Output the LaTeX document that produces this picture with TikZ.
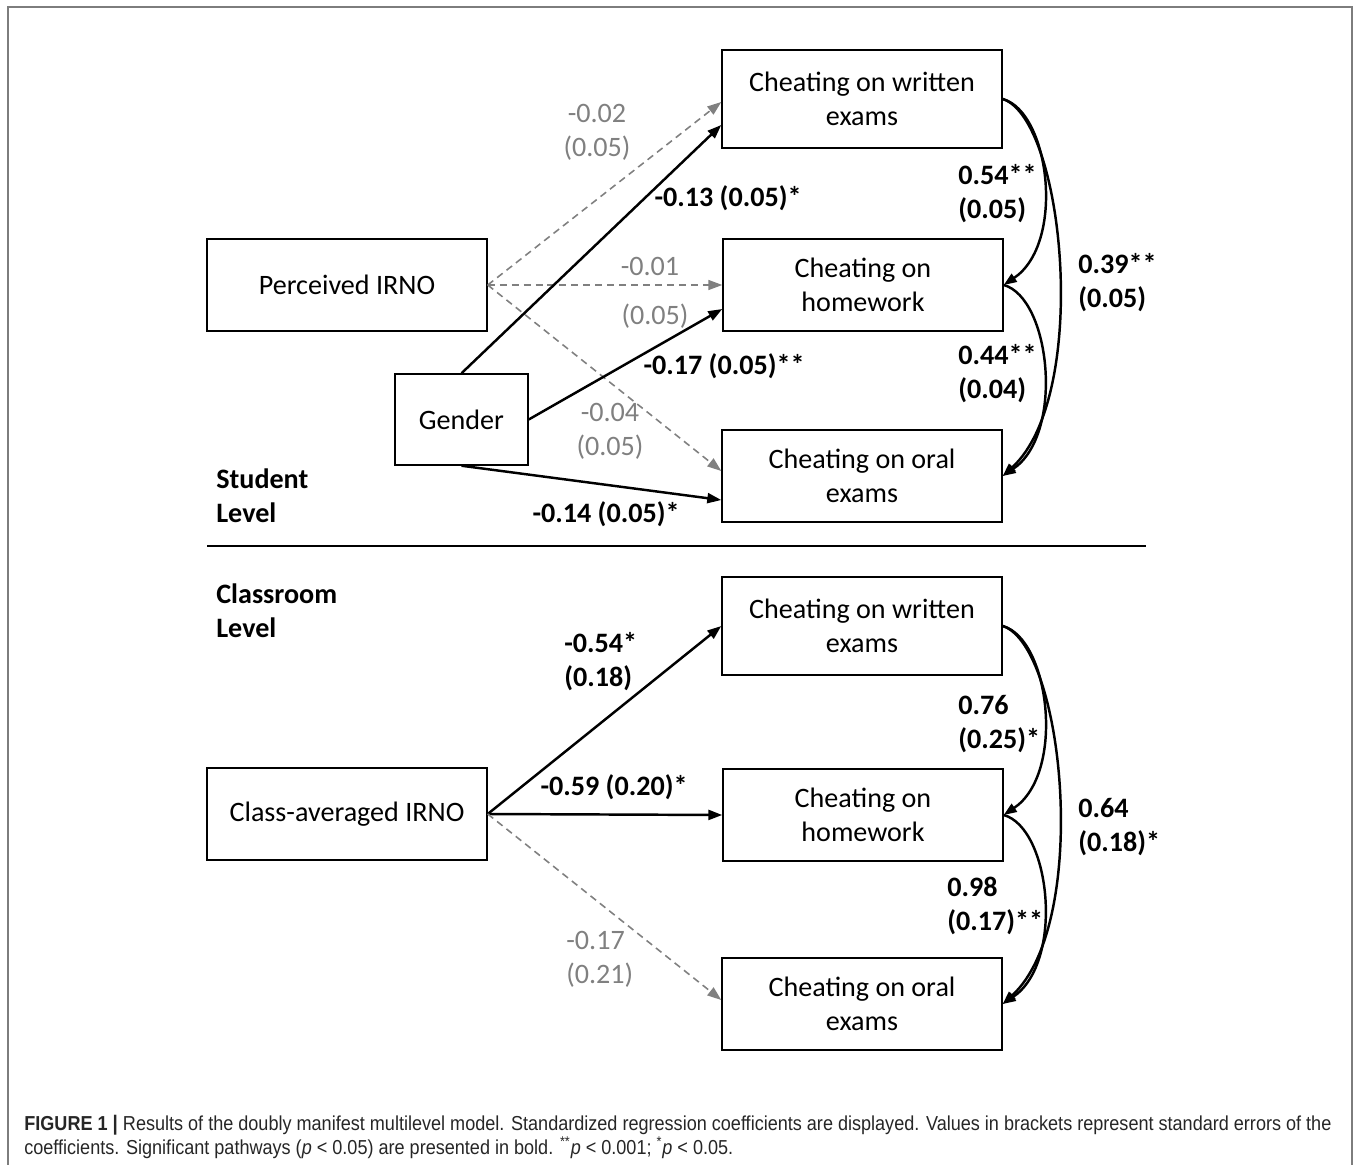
\documentclass[tikz,border=0pt]{standalone}
\usepackage{fontspec}
\setmainfont{Carlito}
\newfontfamily\capfont[FakeStretch=0.894]{Liberation Sans}
\usetikzlibrary{arrows.meta}

\definecolor{nsgray}{RGB}{128,128,128}
\definecolor{framegray}{RGB}{125,125,125}

\tikzset{
  box/.style={draw, line width=0.85pt, minimum width=5.6cm, minimum height=1.84cm, align=center, inner sep=2pt},
  sig/.style={-{Triangle[length=0.28cm,width=0.2cm]}, line width=1.4pt},
  nsig/.style={-{Triangle[length=0.28cm,width=0.2cm]}, line width=0.9pt, draw=nsgray, dash pattern=on 4pt off 2.8pt},
  cov/.style={-{Triangle[length=0.26cm,width=0.19cm]}, line width=1.4pt},
  blab/.style={font=\fontsize{16}{19.3}\selectfont\bfseries, align=left, inner sep=0pt},
  glab/.style={text=nsgray, align=center, inner sep=0pt}
}

\begin{document}
\begin{tikzpicture}[x=0.02cm, y=-0.02cm, font=\fontsize{16}{19.3}\selectfont]

        \useasboundingbox (0,0) rectangle (1359,1165);

        % Rahmen
        \draw[framegray, line width=0.9pt] (8,1165) -- (8,7) -- (1352,7) -- (1352,1165);

        % Student Level
        \node[box] at (347,285) (perc) {Perceived IRNO};
        \node[box, minimum width=2.66cm, minimum height=1.82cm] at (461.5,419.5) (gender) {Gender};
        \node[box, minimum height=1.96cm] at (862,99) (wTop) {Cheating on written\\exams};
        \node[box] at (863,285) (hTop) {Cheating on\\homework};
        \node[box] at (862,476) (oTop) {Cheating on oral\\exams};
        \node[blab, anchor=west] at (216,496) (stud) {Student\\Level};

        % Trennlinie
        \coordinate (sepL) at (207,546);
        \coordinate (sepR) at (1146,546);
        \draw[line width=1pt] (sepL) -- (sepR);

        % Classroom Level
        \node[box] at (347,814) (cls) {Class-averaged IRNO};
        \node[box, minimum height=1.96cm] at (862,626) (wBot) {Cheating on written\\exams};
        \node[box] at (863,815) (hBot) {Cheating on\\homework};
        \node[box] at (862,1004) (oBot) {Cheating on oral\\exams};
        \node[blab, anchor=west] at (216,611) (room) {Classroom\\Level};

        % Pfade oben
        \draw[nsig] (perc.east) -- ([yshift=-0.06cm]wTop.west);
        \draw[nsig] (perc.east) -- (hTop.west);
        \draw[nsig] (perc.east) -- ([yshift=0.1cm]oTop.west);
        \draw[sig] (gender.north) -- ([yshift=-0.52cm]wTop.west);
        \draw[sig] (gender.east) -- ([yshift=-0.48cm]hTop.west);
        \draw[sig] (gender.south) -- ([yshift=-0.48cm]oTop.west);

        % Kovarianzen oben
        \draw[cov] (wTop.east) .. controls +(47,13) and +(62,-42) .. (hTop.east);
        \draw[cov] (hTop.east) .. controls +(47,13) and +(62,-42) .. (oTop.east);
        \draw[cov] (wTop.east) .. controls +(62,20) and +(88,-80) .. (oTop.east);

        % Pfade unten
        \draw[sig] (cls.east) -- (wBot.west);
        \draw[sig] (cls.east) -- (hBot.west);
        \draw[nsig] (cls.east) -- ([yshift=0.08cm]oBot.west);

        % Kovarianzen unten
        \draw[cov] (wBot.east) .. controls +(47,13) and +(62,-42) .. (hBot.east);
        \draw[cov] (hBot.east) .. controls +(47,13) and +(62,-42) .. (oBot.east);
        \draw[cov] (wBot.east) .. controls +(62,20) and +(88,-80) .. (oBot.east);

        % Koeffizienten oben
        \node[glab] at (597,132) (l1) {-0.02\\(0.05)};
        \node[blab] at (728,198) (l2) {-0.13 (0.05)*};
        \node[glab] at (650,266) (l3) {-0.01};
        \node[glab] at (655,316) (l4) {(0.05)};
        \node[blab] at (724,366) (l5) {-0.17 (0.05)**};
        \node[glab] at (610,431) (l6) {-0.04\\(0.05)};
        \node[blab] at (606,514) (l7) {-0.14 (0.05)*};
        \node[blab, anchor=west] at (958,194) (l8) {0.54**\\(0.05)};
        \node[blab, anchor=west] at (1078,283) (l9) {0.39**\\(0.05)};
        \node[blab, anchor=west] at (958,374) (l10) {0.44**\\(0.04)};

        % Koeffizienten unten
        \node[blab, anchor=west] at (564,662) (m1) {-0.54*\\(0.18)};
        \node[blab] at (614,787) (m2) {-0.59 (0.20)*};
        \node[glab, align=left, anchor=west] at (566,959) (m3) {-0.17\\(0.21)};
        \node[blab, anchor=west] at (958,724) (m4) {0.76\\(0.25)*};
        \node[blab, anchor=west] at (1078,827) (m5) {0.64\\(0.18)*};
        \node[blab, anchor=west] at (947,906) (m6) {0.98\\(0.17)**};

        % Bildunterschrift
        \node[anchor=west, align=left, inner sep=0pt, text=black!85, font=\capfont\fontsize{11.5}{13.6}\selectfont] at (24,1137) (cap)
          {\textbf{FIGURE 1 {\large\textbar}} Results of the doubly manifest multilevel model. Standardized regression coefficients are displayed. Values in brackets represent standard errors of the\\
           coefficients. Significant pathways (\textit{p} < 0.05) are presented in bold. \textsuperscript{**}\textit{p} < 0.001; \textsuperscript{*}\textit{p} < 0.05.};

    \end{tikzpicture}
\end{document}
